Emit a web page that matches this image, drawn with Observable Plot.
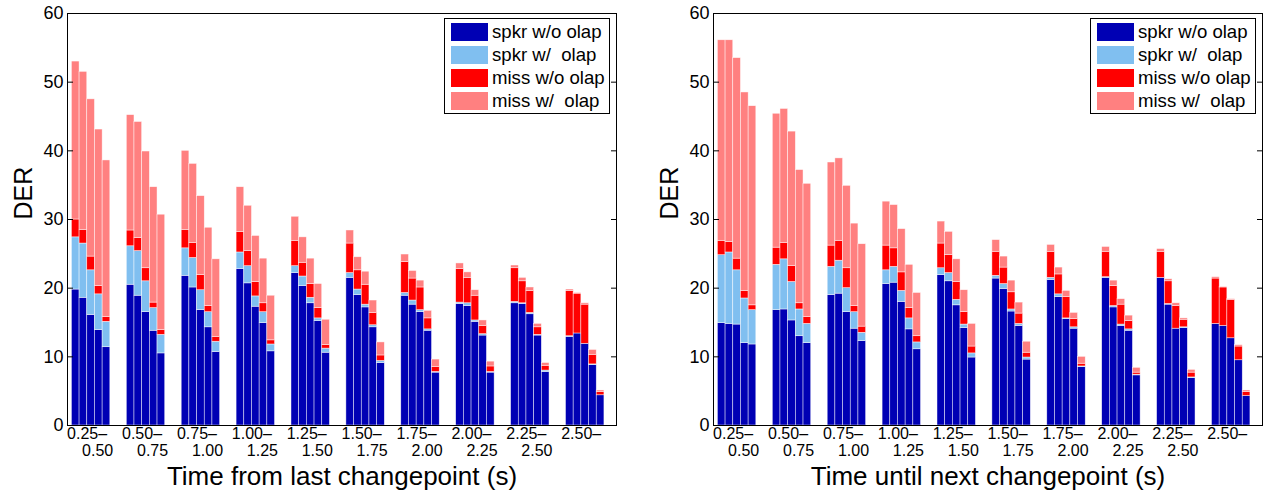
<!DOCTYPE html>
<html>
<head>
<meta charset="utf-8">
<script src="https://cdn.jsdelivr.net/npm/d3@7"></script>
<script src="https://cdn.jsdelivr.net/npm/@observablehq/plot@0.6"></script>
<style>
  body { margin: 0; background: #fff; font-family: "Liberation Sans", Arial, Helvetica, sans-serif; }
  #wrap { position: relative; width: 1263px; height: 499px; overflow: hidden; background: #fff; }
  .panel { position: absolute; top: 0; }
  .legend { position: absolute; top: 18px; width: 164px; height: 94px; border: 1px solid #000; background: #fff; }
  .row { position: absolute; left: 6px; height: 18px; }
  .sw { position: absolute; left: 0; top: 0; width: 37px; height: 18px; }
  .lab { position: absolute; left: 41px; top: -2px; font-size: 18.6px; line-height: 22px; white-space: pre; color: #000; }
</style>
</head>
<body>
<div id="wrap"></div>
<script>
// ---------- data ----------
const groupStarts = ["0.25–","0.50–","0.75–","1.00–","1.25–","1.50–","1.75–","2.00–","2.25–","2.50–"];
const groupEnds   = ["0.50","0.75","1.00","1.25","1.50","1.75","2.00","2.25","2.50",""];
const seriesNames = ["spkr w/o olap", "spkr w/  olap", "miss w/o olap", "miss w/  olap"];
const seriesColors = ["#0000b4", "#80bff0", "#ff0000", "#ff8080"];
const yTicks = [0, 10, 20, 30, 40, 50, 60];
const xTitles = ["Time from last changepoint (s)", "Time until next changepoint (s)"];

// Panel A: time from last changepoint; 10 groups x 5 bars (group-major)
const lastSpkrNoOlap = [19.8,18.6,16.1,13.9,11.4, 20.5,18.9,16.5,13.8,10.5, 21.8,20.1,16.8,14.3,10.7, 22.8,20.7,17.3,14.9,10.8, 22.2,20.3,17.8,15.2,10.6,
                        21.5,19.0,17.2,14.3,9.1, 18.9,17.6,16.5,13.8,7.7, 17.7,17.4,15.1,13.1,7.7, 17.8,17.7,16.2,13.1,7.8, 12.9,13.4,11.9,8.8,4.4];
const lastSpkrOlap   = [7.6,7.9,6.5,5.2,3.7, 5.6,6.5,4.5,3.3,2.7, 4.0,4.3,2.9,2.2,1.5, 2.4,2.5,1.5,1.6,1.0, 1.0,1.4,0.8,0.4,0.6,
                        0.7,0.8,0.4,0.3,0.3, 0.4,0.6,0.3,0.2,0.1, 0.2,0.4,0.2,0.2,0.1, 0.2,0.1,0.2,0.1,0.2, 0.1,0.0,0.0,0.1,0.0];
const lastMissNoOlap = [2.6,2.0,2.0,1.2,0.7, 2.3,1.9,1.9,0.8,0.7, 2.7,2.2,2.2,0.9,0.7, 3.0,2.2,2.1,1.3,0.6, 3.7,2.0,2.0,1.5,0.5,
                        4.3,2.8,2.9,1.8,0.8, 4.5,3.2,3.3,1.6,0.7, 4.9,3.7,3.6,1.2,0.8, 4.9,3.2,3.2,1.1,0.7, 6.6,5.8,5.7,1.4,0.5];
const lastMissOlap   = [23.0,23.0,22.9,22.8,22.8, 16.8,16.9,17.0,16.8,16.8, 11.5,11.5,11.5,11.4,11.3, 6.5,6.6,6.7,6.5,6.5, 3.5,3.7,3.7,3.5,3.7,
                        1.9,1.9,1.9,1.8,1.9, 1.1,1.1,1.0,1.1,1.1, 0.8,0.8,0.8,0.8,0.7, 0.4,0.5,0.5,0.5,0.4, 0.2,0.1,0.2,0.7,0.2];

// Panel B: time until next changepoint
const nextSpkrNoOlap = [14.9,14.8,14.7,12.0,11.8, 16.8,16.9,15.3,13.0,12.0, 19.0,19.2,16.5,14.1,12.3, 20.6,20.8,18.0,14.0,11.1, 21.9,21.0,17.5,14.2,9.9,
                        21.4,19.9,16.6,14.5,9.6, 21.2,18.7,15.5,14.1,8.5, 21.5,17.2,14.5,13.8,7.3, 21.5,17.6,14.1,14.2,6.9, 14.8,14.5,12.7,9.5,4.3];
const nextSpkrOlap   = [9.9,10.4,7.9,6.5,5.0, 6.6,7.3,5.6,3.9,2.8, 4.1,4.8,3.5,2.4,1.2, 2.0,2.3,1.6,1.6,1.0, 1.0,1.2,0.8,0.5,0.6,
                        0.4,0.7,0.3,0.3,0.3, 0.3,0.4,0.1,0.2,0.1, 0.1,0.2,0.2,0.2,0.1, 0.0,0.1,0.0,0.1,0.1, 0.0,0.0,0.0,0.0,0.0];
const nextMissNoOlap = [2.1,1.5,1.7,1.1,0.7, 2.5,2.4,2.3,0.9,1.0, 3.1,2.9,2.9,0.9,0.9, 3.6,2.7,2.7,1.5,0.9, 3.6,2.6,2.6,1.8,1.0,
                        3.5,2.4,2.5,1.5,0.7, 3.8,2.9,3.1,1.2,0.4, 3.7,2.9,2.9,1.2,0.3, 3.8,3.3,3.3,1.1,0.7, 6.6,5.6,5.6,2.0,0.6];
const nextMissOlap   = [29.2,29.4,29.2,28.9,29.0, 19.5,19.5,19.6,19.4,19.4, 12.1,12.0,12.0,12.0,12.0, 6.4,6.3,6.3,6.3,6.3, 3.2,3.4,3.3,3.2,3.3,
                        1.7,1.6,1.7,1.6,1.6, 1.0,1.0,0.9,0.9,1.0, 0.7,0.8,0.8,0.8,0.7, 0.4,0.3,0.4,0.2,0.4, 0.2,0.1,0.1,0.2,0.2];

// ---------- drawing ----------
const FONT = '"Liberation Sans", Arial, Helvetica, sans-serif';
const barW = 0.14;   // bar width in group units
const nBars = 5;

function buildRows(series) {
  const rows = [];
  for (let g = 0; g < groupStarts.length; g++) {
    for (let b = 0; b < nBars; b++) {
      let base = 0;
      series.forEach((arr, s) => {
        const v = arr[g * nBars + b];
        rows.push({g: g + 1, b, s: seriesNames[s], y1: base, y2: base + v});
        base += v;
      });
    }
  }
  return rows;
}

function panel(series, title, width, marginLeft, marginRight) {
  const rows = buildRows(series);
  return Plot.plot({
    width, height: 499,
    marginLeft, marginRight, marginTop: 13, marginBottom: 74,
    style: {fontFamily: FONT, fontSize: "16px", color: "#000", background: "transparent", overflow: "visible"},
    x: {domain: [0.57, 10.57], axis: null},
    y: {domain: [0, 60], axis: null},
    color: {domain: seriesNames, range: seriesColors},
    marks: [
      Plot.rect(rows, {
        x1: d => d.g + (d.b - nBars / 2) * barW,
        x2: d => d.g + (d.b - nBars / 2 + 1) * barW,
        y1: "y1", y2: "y2", fill: "s",
        stroke: "#ffffff", strokeWidth: 0.6, strokeOpacity: 0.75
      }),
      Plot.ruleY([0], {stroke: "#ff8080", strokeWidth: 1}),
      Plot.frame({stroke: "#000", strokeWidth: 1}),
      Plot.axisY({ticks: yTicks, tickSize: -6, tickPadding: 10, label: null, fontSize: 18, stroke: "#000"}),
      Plot.axisY({anchor: "right", ticks: yTicks, tickSize: -6, tickFormat: () => "", label: null, stroke: "#000"}),
      Plot.text(groupStarts, {x: (d, i) => i + 1, frameAnchor: "bottom", textAnchor: "start", dx: -24, dy: 13, fontSize: 16}),
      Plot.text(groupEnds, {x: (d, i) => i + 1, frameAnchor: "bottom", textAnchor: "start", dx: -9, dy: 30, fontSize: 16}),
      Plot.text([title], {frameAnchor: "bottom", dy: 59, fontSize: 26}),
      Plot.text(["DER"], {frameAnchor: "left", dx: -44, rotate: -90, fontSize: 25})
    ]
  });
}

function legend(left) {
  const box = document.createElement("div");
  box.className = "legend";
  box.style.left = left + "px";
  seriesNames.forEach((name, i) => {
    const row = document.createElement("div");
    row.className = "row";
    row.style.top = (4 + i * 23) + "px";
    const sw = document.createElement("div");
    sw.className = "sw";
    sw.style.background = seriesColors[i];
    const lab = document.createElement("div");
    lab.className = "lab";
    lab.textContent = name;
    row.appendChild(sw); row.appendChild(lab);
    box.appendChild(row);
  });
  return box;
}

const wrap = document.getElementById("wrap");
const pA = panel([lastSpkrNoOlap, lastSpkrOlap, lastMissNoOlap, lastMissOlap], xTitles[0], 631, 67, 15);
pA.classList.add("panel"); pA.style.left = "0px";
const pB = panel([nextSpkrNoOlap, nextSpkrOlap, nextMissNoOlap, nextMissOlap], xTitles[1], 632, 82, 1);
pB.classList.add("panel"); pB.style.left = "631px";
wrap.appendChild(pA);
wrap.appendChild(pB);
wrap.appendChild(legend(444));
wrap.appendChild(legend(1090));
</script>
</body>
</html>
